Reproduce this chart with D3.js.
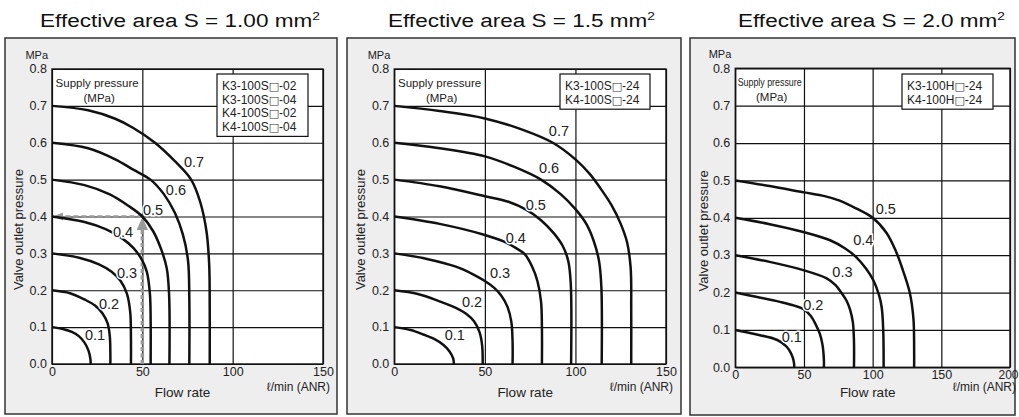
<!DOCTYPE html>
<html>
<head>
<meta charset="utf-8">
<script src="https://cdn.jsdelivr.net/npm/d3@7"></script>
<style>
  body { margin: 0; background: #fff; }
  svg { display: block; font-family: "Liberation Sans", Arial, Helvetica, sans-serif; }
</style>
</head>
<body>
<svg id="chart" width="1019" height="417"></svg>
<script>
// ---- data ----
const titles = ['Effective area S = 1.00 mm', 'Effective area S = 1.5 mm', 'Effective area S = 2.0 mm'];
const modelsS1 = [['K3-100S', '-02'], ['K3-100S', '-04'], ['K4-100S', '-02'], ['K4-100S', '-04']];
const modelsS15 = [['K3-100S', '-24'], ['K4-100S', '-24']];
const modelsS2 = [['K3-100H', '-24'], ['K4-100H', '-24']];
const flowTicksS1 = [0, 50, 100, 150];
const flowTicksS15 = [0, 50, 100, 150];
const flowTicksS2 = [0, 50, 100, 150, 200];
const pressureTicks = [0, 0.1, 0.2, 0.3, 0.4, 0.5, 0.6, 0.7, 0.8];
const supplyS1 = [0.7, 0.6, 0.5, 0.4, 0.3, 0.2, 0.1];
const supplyS15 = [0.7, 0.6, 0.5, 0.4, 0.3, 0.2, 0.1];
const supplyS2 = [0.5, 0.4, 0.3, 0.2, 0.1];

// [flow l/min, outlet pressure MPa], one list per supply pressure
const curvesS1 = [
  [[0,0.7],[20,0.688],[35,0.665],[45,0.64],[57,0.6],[68,0.55],[77,0.5],[82,0.44],[85.5,0.36],[87,0.27],[87.3,0.15],[87.3,0]],
  [[0,0.6],[20,0.585],[35,0.555],[45,0.527],[54.5,0.5],[62,0.46],[68,0.41],[72.5,0.35],[75.3,0.28],[76,0.18],[76,0]],
  [[0,0.5],[18,0.485],[32,0.46],[42,0.43],[50,0.4],[56,0.36],[60.5,0.31],[63.5,0.26],[64.8,0.19],[65,0]],
  [[0,0.4],[18,0.385],[30,0.365],[39,0.34],[45,0.315],[49.5,0.285],[52.5,0.25],[54.2,0.19],[54.6,0.12],[54.6,0]],
  [[0,0.3],[15,0.288],[26,0.27],[33,0.25],[38,0.225],[41.5,0.19],[43.3,0.14],[43.7,0.07],[43.7,0]],
  [[0,0.2],[10,0.192],[18,0.175],[24,0.158],[28,0.137],[30.8,0.11],[32,0.075],[32.3,0.03],[32.3,0]],
  [[0,0.1],[6,0.095],[11,0.087],[15,0.075],[18,0.058],[20.3,0.035],[21.3,0.012],[21.4,0]]
];
const curvesS15 = [
  [[0,0.7],[25,0.686],[50,0.666],[71,0.635],[87.5,0.6],[100,0.555],[108,0.515],[114,0.475],[120,0.43],[125,0.38],[128.5,0.33],[130.5,0.26],[130.8,0.15],[130.8,0]],
  [[0,0.6],[25,0.585],[50,0.563],[66,0.535],[81,0.5],[92,0.46],[100,0.42],[106,0.38],[110,0.335],[113,0.28],[114.3,0.21],[114.5,0]],
  [[0,0.5],[25,0.482],[50,0.455],[63,0.44],[73,0.418],[81,0.39],[88,0.355],[93,0.32],[96,0.28],[97.4,0.22],[97.6,0]],
  [[0,0.4],[25,0.38],[50,0.35],[60,0.333],[67,0.315],[72,0.298],[76,0.265],[79,0.225],[81,0.17],[81.5,0.1],[81.5,0]],
  [[0,0.3],[18,0.285],[34,0.264],[44,0.242],[50,0.225],[55,0.207],[59,0.186],[62.5,0.155],[64.6,0.115],[65.3,0.06],[65.3,0]],
  [[0,0.2],[13,0.19],[25,0.17],[34,0.152],[40,0.135],[44,0.116],[47,0.087],[48.5,0.05],[48.8,0]],
  [[0,0.1],[9,0.092],[16,0.08],[22,0.068],[27,0.052],[30.5,0.034],[32.5,0.015],[32.9,0]]
];
const curvesS2 = [
  [[0,0.5],[25,0.485],[50,0.468],[65,0.458],[76,0.446],[88,0.425],[100,0.4],[110,0.36],[117,0.31],[122,0.26],[127,0.2],[129.7,0.13],[130.2,0.05],[130.2,0]],
  [[0,0.4],[25,0.383],[49.5,0.362],[69,0.34],[80,0.318],[88,0.295],[95,0.265],[100.5,0.233],[104.5,0.195],[106.6,0.16],[107.7,0.1],[108,0]],
  [[0,0.3],[25,0.282],[49.5,0.26],[66.5,0.238],[73,0.22],[77.5,0.198],[81,0.178],[83.5,0.155],[85.6,0.12],[86.4,0.07],[86.4,0]],
  [[0,0.2],[16,0.188],[32.5,0.175],[43,0.165],[50,0.155],[55,0.137],[58.5,0.115],[61.5,0.09],[63.5,0.06],[64.5,0.02],[64.5,0]],
  [[0,0.1],[14,0.089],[27.7,0.077],[33,0.068],[37.4,0.055],[40.2,0.04],[41.9,0.025],[42.8,0.01],[42.9,0]]
];
// where each supply-pressure label sits, in data units
const labelAtS1 = [[78.6,0.549],[68.6,0.473],[55.9,0.419],[39.3,0.359],[41.5,0.247],[31.6,0.163],[23.8,0.079]];
const labelAtS15 = [[90.9,0.631],[85.4,0.532],[78.1,0.432],[67.1,0.342],[58.4,0.246],[42.9,0.169],[33.4,0.079]];
const labelAtS2 = [[109.6,0.425],[93.2,0.342],[78,0.255],[56.8,0.166],[41.1,0.08]];
// reading example on the first chart: 50 l/min -> 0.4 MPa
const exampleFlow = 50;
const examplePressure = 0.4;

// ---- layout ----
const panels = [
  { box: [5, 38, 332, 376], plot: [52, 323, 69, 364], titleX: 180, titleW: 280,
    legend: [217, 74, 91], supplyW: null,
    title: titles[0], models: modelsS1, ticks: flowTicksS1, supply: supplyS1, curves: curvesS1, labels: labelAtS1 },
  { box: [347, 38, 334, 376], plot: [394.3, 666, 69, 364], titleX: 521.5, titleW: 267,
    legend: [560, 74, 90], supplyW: null,
    title: titles[1], models: modelsS15, ticks: flowTicksS15, supply: supplyS15, curves: curvesS15, labels: labelAtS15 },
  { box: [690, 38, 325, 377], plot: [735.3, 1010, 68.3, 367.3], titleX: 871.5, titleW: 267,
    legend: [902, 74, 91], supplyW: 64,
    title: titles[2], models: modelsS2, ticks: flowTicksS2, supply: supplyS2, curves: curvesS2, labels: labelAtS2 }
];

const svg = d3.select('#chart');
const ink = '#111';
const line = d3.line().curve(d3.curveCatmullRom.alpha(0.5));

panels.forEach((p, i) => {
  const [l, r, t, b] = p.plot;
  const g = svg.append('g');

  // title with superscript 2
  const title = g.append('text')
    .attr('x', p.titleX).attr('y', 27)
    .attr('text-anchor', 'middle')
    .attr('font-size', 18).attr('fill', '#111')
    .attr('textLength', p.titleW).attr('lengthAdjust', 'spacingAndGlyphs')
    .text(p.title);
  title.append('tspan').attr('dy', -7).attr('font-size', 11).text('2');

  // grey frame
  g.append('rect')
    .attr('x', p.box[0]).attr('y', p.box[1])
    .attr('width', p.box[2]).attr('height', p.box[3])
    .attr('fill', '#eeeeee').attr('stroke', '#333').attr('stroke-width', 1.5);

  const x = d3.scaleLinear().domain([0, d3.max(p.ticks)]).range([l, r]);
  const y = d3.scaleLinear().domain([0, d3.max(pressureTicks)]).range([b, t]);

  g.append('rect')
    .attr('x', l).attr('y', t).attr('width', r - l).attr('height', b - t)
    .attr('fill', '#fff');

  // grid + tick labels through the axis generators
  const yAxis = g.append('g')
    .attr('transform', `translate(${l},0)`)
    .call(d3.axisLeft(y).tickValues(pressureTicks).tickFormat(d3.format('.1f'))
      .tickSize(-(r - l)).tickPadding(5));
  const xAxis = g.append('g')
    .attr('transform', `translate(0,${b})`)
    .call(d3.axisBottom(x).tickValues(p.ticks).tickFormat(d3.format('d'))
      .tickSize(-(b - t)).tickPadding(3));
  [yAxis, xAxis].forEach(a => {
    a.select('.domain').remove();
    a.selectAll('line').attr('stroke', ink).attr('stroke-width', 1.2);
    a.selectAll('text')
      .attr('font-family', '"Liberation Sans", Arial, sans-serif')
      .attr('font-size', 12.5).attr('fill', '#222');
  });
  yAxis.selectAll('text').attr('dy', '0.3em');
  // last flow label runs up to the page edge, keep it inside
  xAxis.selectAll('.tick text').filter(d => d === 200).attr('dx', -2).attr('font-size', 12);

  g.append('rect')
    .attr('x', l).attr('y', t).attr('width', r - l).attr('height', b - t)
    .attr('fill', 'none').attr('stroke', ink).attr('stroke-width', 1.4);

  // axis captions
  g.append('text')
    .attr('x', l - 4).attr('y', t - 10)
    .attr('text-anchor', 'end').attr('font-size', 11).attr('fill', '#222')
    .text('MPa');
  g.append('text')
    .attr('transform', `translate(${p.box[0] + 17.5},${(t + b) / 2 + 13}) rotate(-90)`)
    .attr('text-anchor', 'middle').attr('font-size', 13).attr('fill', '#222')
    .text('Valve outlet pressure');
  g.append('text')
    .attr('x', (l + r) / 2 - 5).attr('y', 397)
    .attr('text-anchor', 'middle').attr('font-size', 13.5).attr('fill', '#222')
    .text('Flow rate');
  g.append('text')
    .attr('x', Math.min(r + 7, 1016)).attr('y', 391)
    .attr('text-anchor', 'end').attr('font-size', 12).attr('fill', '#222')
    .text('\u2113/min (ANR)');

  // "Supply pressure (MPa)" inside the top-left cell
  const cx = (x(0) + x(50)) / 2;
  const sp = g.append('text')
    .attr('x', cx).attr('y', t + 18)
    .attr('text-anchor', 'middle').attr('font-size', 11.5).attr('fill', '#222')
    .text('Supply pressure');
  if (p.supplyW) sp.attr('textLength', p.supplyW).attr('lengthAdjust', 'spacingAndGlyphs');
  g.append('text')
    .attr('x', cx + 2).attr('y', t + 33)
    .attr('text-anchor', 'middle').attr('font-size', 11.5).attr('fill', '#222')
    .text('(MPa)');

  // model legend, the square stands for the variable letter
  const [lx, ly, lw] = p.legend;
  const rowH = 13.6;
  g.append('rect')
    .attr('x', lx).attr('y', ly).attr('width', lw)
    .attr('height', p.models.length * rowH + 8)
    .attr('fill', '#fff').attr('stroke', ink).attr('stroke-width', 1.2);
  const rows = g.selectAll('.model').data(p.models).join('text')
    .attr('x', lx + 5).attr('y', (d, k) => ly + 16 + k * rowH)
    .attr('font-size', 12).attr('fill', '#222');
  rows.append('tspan').text(d => d[0]);
  rows.append('tspan').attr('font-family', '"DejaVu Sans", sans-serif')
    .attr('font-size', 11).attr('fill', '#333').text('\u25A1');
  rows.append('tspan').text(d => d[1]);

  // reading example (first chart only)
  if (i === 0) {
    const ex = x(exampleFlow), ey = y(examplePressure);
    g.append('line')
      .attr('x1', ex).attr('y1', ey).attr('x2', x(0) + 8).attr('y2', ey)
      .attr('stroke', '#999').attr('stroke-width', 2.5).attr('stroke-dasharray', '5,3');
    g.append('path')
      .attr('d', `M${x(0) + 1},${ey} L${x(0) + 11},${ey - 4} L${x(0) + 11},${ey + 4} Z`)
      .attr('fill', '#999');
    g.append('line')
      .attr('x1', ex).attr('y1', y(0)).attr('x2', ex).attr('y2', ey + 9)
      .attr('stroke', '#999').attr('stroke-width', 3.5).attr('stroke-dasharray', '4,2.5');
    g.append('path')
      .attr('d', `M${ex},${ey + 2} L${ex + 5},${ey + 13} L${ex - 5},${ey + 13} Z`)
      .attr('fill', '#999').attr('stroke', '#999').attr('stroke-linejoin', 'round');
  }

  // characteristic curves
  g.selectAll('.curve').data(p.curves).join('path')
    .attr('d', d => line(d.map(v => [x(v[0]), y(v[1])])))
    .attr('fill', 'none').attr('stroke', ink)
    .attr('stroke-width', 2.5).attr('stroke-linejoin', 'round');

  g.selectAll('.lbl').data(p.labels).join('text')
    .attr('x', d => x(d[0])).attr('y', d => y(d[1]))
    .attr('dy', '0.35em').attr('text-anchor', 'middle')
    .attr('font-size', 14.5).attr('fill', '#222')
    .attr('stroke', '#fff').attr('stroke-width', 3).attr('paint-order', 'stroke')
    .text((d, k) => d3.format('.1f')(p.supply[k]));
});
</script>
</body>
</html>
